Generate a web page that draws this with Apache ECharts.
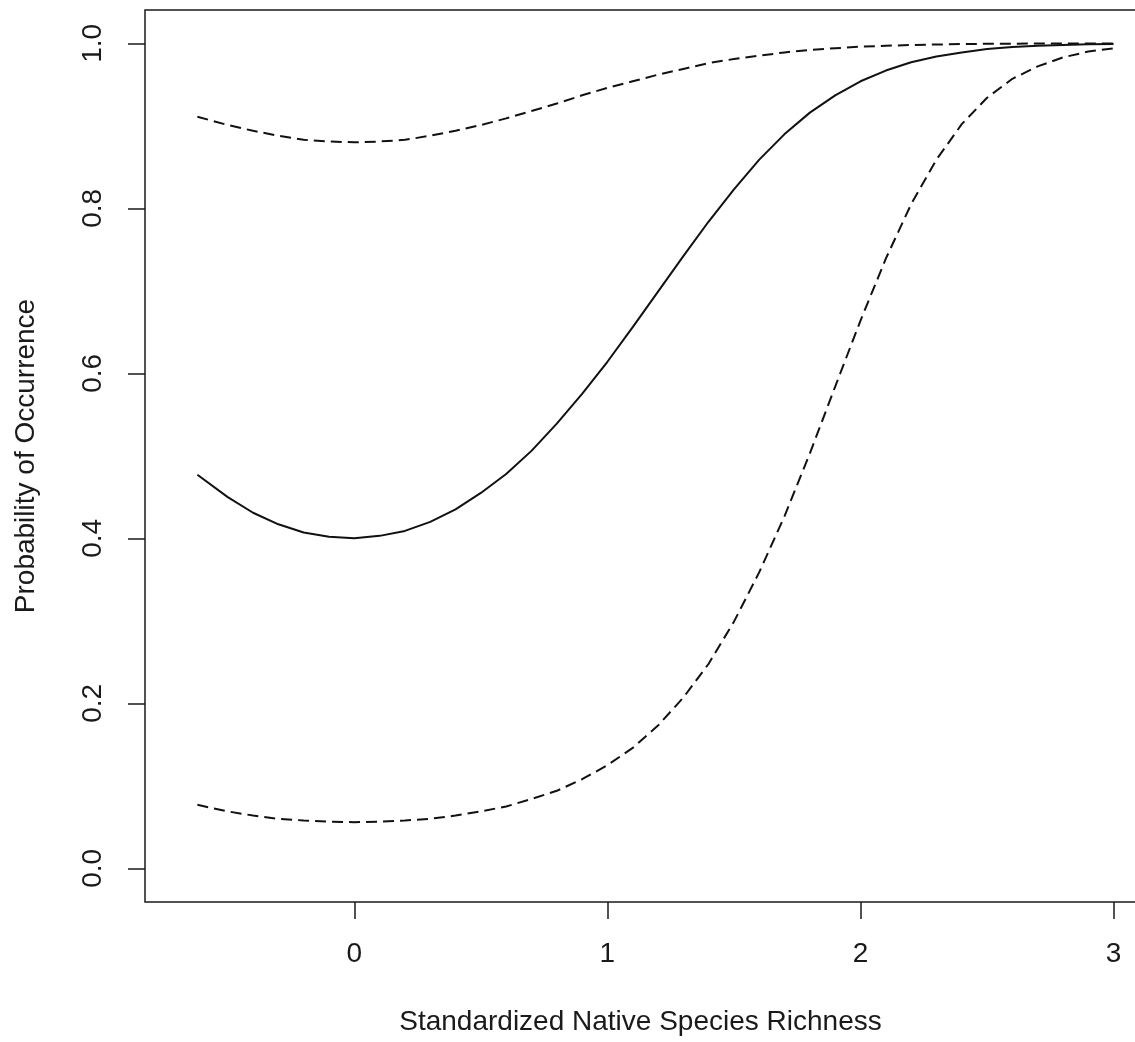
<!DOCTYPE html>
<html>
<head>
<meta charset="utf-8">
<script src="https://cdn.jsdelivr.net/npm/echarts@6/dist/echarts.min.js"></script>
<style>
  html, body { margin: 0; padding: 0; background: #fff; }
  #main { width: 1135px; height: 1042px; }
</style>
</head>
<body>
<div id="main"></div>
<script>
// x positions (standardized native species richness)
var xs = [-0.62, -0.5, -0.4, -0.3, -0.2, -0.1, 0, 0.1, 0.2, 0.3, 0.4, 0.5, 0.6, 0.7, 0.8, 0.9,
  1.0, 1.1, 1.2, 1.3, 1.4, 1.5, 1.6, 1.7, 1.8, 1.9, 2.0, 2.1, 2.2, 2.3, 2.4, 2.5, 2.6, 2.7, 2.8, 2.9, 3.0];

// fitted probability (solid line)
var fitVals = [0.477, 0.450, 0.431, 0.417, 0.407, 0.402, 0.400, 0.403, 0.409, 0.420, 0.435, 0.455, 0.478, 0.506, 0.539, 0.575,
  0.614, 0.656, 0.699, 0.742, 0.784, 0.823, 0.859, 0.890, 0.916, 0.937, 0.954, 0.967, 0.977, 0.984, 0.989, 0.993, 0.9955, 0.997, 0.998, 0.999, 0.9993];

// upper bound (dashed)
var upperVals = [0.911, 0.901, 0.894, 0.888, 0.883, 0.881, 0.880, 0.881, 0.883, 0.888, 0.894, 0.901, 0.909, 0.918, 0.927, 0.937,
  0.946, 0.954, 0.962, 0.969, 0.976, 0.981, 0.985, 0.989, 0.992, 0.994, 0.996, 0.997, 0.998, 0.9986, 0.9991, 0.9994, 0.9996, 0.9997, 0.9998, 0.9999, 0.9999];

// lower bound (dashed)
var lowerVals = [0.077, 0.069, 0.064, 0.060, 0.058, 0.0565, 0.056, 0.0565, 0.058, 0.060, 0.064, 0.069, 0.075, 0.084, 0.094, 0.108,
  0.125, 0.146, 0.173, 0.207, 0.248, 0.299, 0.359, 0.427, 0.503, 0.584, 0.664, 0.739, 0.805, 0.859, 0.902, 0.934, 0.957, 0.972, 0.983, 0.990, 0.994];

var xTicks = [0, 1, 2, 3];
var yTicks = [0, 0.2, 0.4, 0.6, 0.8, 1.0];

function pairs(vals) {
  return xs.map(function (x, i) { return [x, vals[i]]; });
}

var font = "'Liberation Sans', Arial, Helvetica, sans-serif";
var ink = '#1a1a1a';

var chart = echarts.init(document.getElementById('main'));

var option = {
  animation: false,
  backgroundColor: '#fff',
  grid: {
    left: 145,
    top: 10,
    width: 991,
    height: 892,
    containLabel: false,
    outerBoundsMode: 'none',
    show: true,
    borderColor: ink,
    borderWidth: 1.5
  },
  xAxis: {
    type: 'value',
    min: -0.827,
    max: 3.0885,
    name: 'Standardized Native Species Richness',
    nameLocation: 'middle',
    nameGap: 106,
    nameTextStyle: { fontFamily: font, fontSize: 28, color: ink },
    axisLine: { show: false, onZero: false },
    splitLine: { show: false },
    axisTick: {
      show: true,
      length: 17,
      customValues: xTicks,
      lineStyle: { color: ink, width: 1.5 }
    },
    axisLabel: {
      customValues: xTicks,
      margin: 38,
      fontFamily: font,
      fontSize: 28,
      color: ink
    }
  },
  yAxis: {
    type: 'value',
    min: -0.0408,
    max: 1.0404,
    name: 'Probability of Occurrence',
    nameLocation: 'middle',
    nameGap: 105,
    nameTextStyle: { fontFamily: font, fontSize: 28, color: ink },
    axisLine: { show: false, onZero: false },
    splitLine: { show: false },
    axisTick: {
      show: true,
      length: 17,
      customValues: yTicks,
      lineStyle: { color: ink, width: 1.5 }
    },
    axisLabel: {
      customValues: yTicks,
      rotate: 90,
      margin: 38,
      fontFamily: font,
      fontSize: 28,
      color: ink,
      formatter: function (v) { return v.toFixed(1); }
    }
  },
  series: [
    {
      name: 'upper',
      type: 'line',
      data: pairs(upperVals),
      showSymbol: false,
      lineStyle: { color: '#111', width: 2, type: [11, 6] }
    },
    {
      name: 'fit',
      type: 'line',
      data: pairs(fitVals),
      showSymbol: false,
      lineStyle: { color: '#111', width: 2 }
    },
    {
      name: 'lower',
      type: 'line',
      data: pairs(lowerVals),
      showSymbol: false,
      lineStyle: { color: '#111', width: 2, type: [11, 6] }
    }
  ]
};

chart.setOption(option);
</script>
</body>
</html>
